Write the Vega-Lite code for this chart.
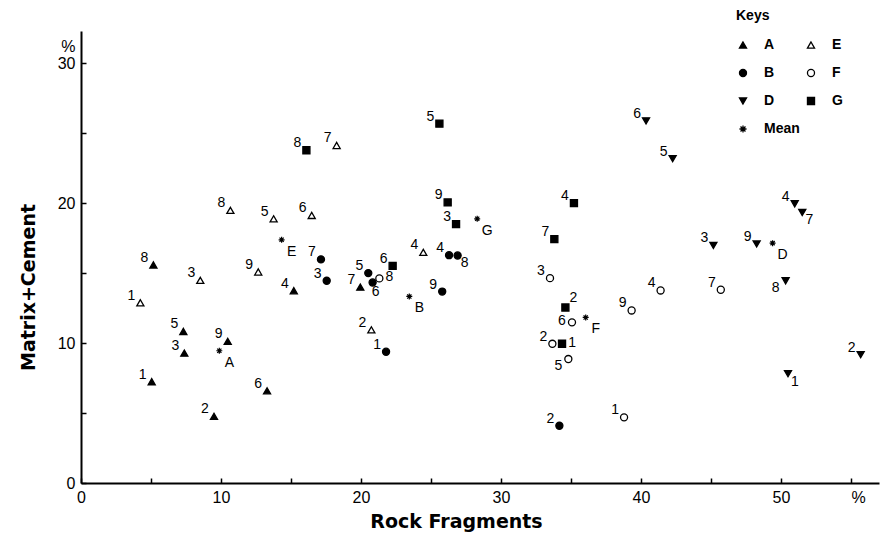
{
  "$schema": "https://vega.github.io/schema/vega-lite/v6.json",
  "width": 798,
  "height": 452,
  "autosize": {"type": "none"},
  "padding": {"left": 81, "top": 31, "right": 2, "bottom": 55},
  "background": "white",
  "config": {
    "view": {"stroke": null},
    "axis": {"grid": false, "domainColor": "black", "domainWidth": 2, "tickColor": "black", "tickWidth": 1.5, "labelColor": "black", "titleColor": "black"},
    "text": {"font": "Liberation Sans", "fontSize": 14, "fill": "black"},
    "legend": {"symbolStrokeColor": "black", "symbolStrokeWidth": 1.3}
  },
  "datasets": {
    "pts": [
      {"g": "A", "n": "1", "x": 5.05, "y": 7.24},
      {"g": "A", "n": "2", "x": 9.5, "y": 4.76},
      {"g": "A", "n": "3", "x": 7.38, "y": 9.28},
      {"g": "A", "n": "4", "x": 15.2, "y": 13.74},
      {"g": "A", "n": "5", "x": 7.31, "y": 10.83},
      {"g": "A", "n": "6", "x": 13.29, "y": 6.59},
      {"g": "A", "n": "7", "x": 19.95, "y": 14.0},
      {"g": "A", "n": "8", "x": 5.17, "y": 15.58},
      {"g": "A", "n": "9", "x": 10.48, "y": 10.12},
      {"g": "B", "n": "1", "x": 21.79, "y": 9.38},
      {"g": "B", "n": "2", "x": 34.17, "y": 4.09},
      {"g": "B", "n": "3", "x": 17.55, "y": 14.45},
      {"g": "B", "n": "4", "x": 26.29, "y": 16.28},
      {"g": "B", "n": "5", "x": 20.52, "y": 15.0},
      {"g": "B", "n": "6", "x": 20.83, "y": 14.33},
      {"g": "B", "n": "7", "x": 17.14, "y": 15.98},
      {"g": "B", "n": "8", "x": 26.9, "y": 16.26},
      {"g": "B", "n": "9", "x": 25.8, "y": 13.68},
      {"g": "D", "n": "1", "x": 50.5, "y": 7.81},
      {"g": "D", "n": "2", "x": 55.69, "y": 9.17},
      {"g": "D", "n": "3", "x": 45.17, "y": 16.98},
      {"g": "D", "n": "4", "x": 50.98, "y": 19.95},
      {"g": "D", "n": "5", "x": 42.26, "y": 23.18},
      {"g": "D", "n": "6", "x": 40.36, "y": 25.88},
      {"g": "D", "n": "7", "x": 51.52, "y": 19.33},
      {"g": "D", "n": "8", "x": 50.33, "y": 14.45},
      {"g": "D", "n": "9", "x": 48.26, "y": 17.08},
      {"g": "E", "n": "1", "x": 4.24, "y": 12.88},
      {"g": "E", "n": "2", "x": 20.74, "y": 10.95},
      {"g": "E", "n": "3", "x": 8.52, "y": 14.48},
      {"g": "E", "n": "4", "x": 24.45, "y": 16.48},
      {"g": "E", "n": "5", "x": 13.76, "y": 18.88},
      {"g": "E", "n": "6", "x": 16.48, "y": 19.12},
      {"g": "E", "n": "7", "x": 18.26, "y": 24.12},
      {"g": "E", "n": "8", "x": 10.67, "y": 19.48},
      {"g": "E", "n": "9", "x": 12.66, "y": 15.08},
      {"g": "F", "n": "1", "x": 38.79, "y": 4.69},
      {"g": "F", "n": "2", "x": 33.67, "y": 9.95},
      {"g": "F", "n": "3", "x": 33.5, "y": 14.64},
      {"g": "F", "n": "4", "x": 41.4, "y": 13.76},
      {"g": "F", "n": "5", "x": 34.81, "y": 8.86},
      {"g": "F", "n": "6", "x": 35.07, "y": 11.48},
      {"g": "F", "n": "7", "x": 45.7, "y": 13.81},
      {"g": "F", "n": "8", "x": 21.31, "y": 14.62},
      {"g": "F", "n": "9", "x": 39.33, "y": 12.33},
      {"g": "G", "n": "1", "x": 34.36, "y": 9.95},
      {"g": "G", "n": "2", "x": 34.6, "y": 12.54},
      {"g": "G", "n": "3", "x": 26.79, "y": 18.5},
      {"g": "G", "n": "4", "x": 35.21, "y": 20.0},
      {"g": "G", "n": "5", "x": 25.6, "y": 25.68},
      {"g": "G", "n": "6", "x": 22.26, "y": 15.52},
      {"g": "G", "n": "7", "x": 33.81, "y": 17.43},
      {"g": "G", "n": "8", "x": 16.1, "y": 23.78},
      {"g": "G", "n": "9", "x": 26.19, "y": 20.05}
    ],
    "means": [
      {"g": "Mean", "m": "A", "x": 9.88, "y": 9.45},
      {"g": "Mean", "m": "B", "x": 23.45, "y": 13.33},
      {"g": "Mean", "m": "D", "x": 49.4, "y": 17.14},
      {"g": "Mean", "m": "E", "x": 14.33, "y": 17.38},
      {"g": "Mean", "m": "F", "x": 36.05, "y": 11.83},
      {"g": "Mean", "m": "G", "x": 28.3, "y": 18.88}
    ]
  },
  "encoding": {
    "x": {
      "field": "x", "type": "quantitative",
      "scale": {"domain": [0, 57], "nice": false, "zero": false},
      "axis": {
        "values": [0, 5, 10, 15, 20, 25, 30, 35, 40, 45, 50, 55, 55.5],
        "labelExpr": "datum.value == 55.5 ? '%' : (datum.value % 10 == 0 ? datum.label : '')",
        "tickSize": -5,
        "tickOpacity": {"condition": {"test": "datum.value == 55.5", "value": 0}, "value": 1},
        "labelPadding": 11,
        "labelFont": "Liberation Sans", "labelFontSize": 16, "labelBaseline": "top",
        "labelFlush": false, "labelOverlap": false,
        "title": "Rock Fragments",
        "titleFont": "DejaVu Sans", "titleFontSize": 19, "titleFontWeight": "bold",
        "titleX": 375, "titleY": 44, "titleBaseline": "alphabetic", "titleAlign": "center", "titleAnchor": null
      }
    },
    "y": {
      "field": "y", "type": "quantitative",
      "scale": {"domain": [0, 32.3], "nice": false, "zero": false},
      "axis": {
        "values": [0, 5, 10, 15, 20, 25, 30, 31.2],
        "labelExpr": "datum.value == 31.2 ? '%' : (datum.value % 10 == 0 ? datum.label : '')",
        "tickSize": -5,
        "tickOpacity": {"condition": {"test": "datum.value == 31.2", "value": 0}, "value": 1},
        "labelPadding": 11,
        "labelFont": "Liberation Sans", "labelFontSize": 16,
        "labelFlush": false, "labelOverlap": false,
        "title": "Matrix+Cement",
        "titleFont": "DejaVu Sans", "titleFontSize": 19, "titleFontWeight": "bold",
        "titleX": -47, "titleY": 256, "titleBaseline": "alphabetic", "titleAlign": "center", "titleAngle": -90
      }
    }
  },
  "layer": [
    {
      "data": {"name": "pts"},
      "mark": {"type": "point", "filled": true, "strokeWidth": 1.3, "opacity": 1, "size": 50},
      "encoding": {
        "shape": {
          "field": "g", "type": "nominal",
          "scale": {"domain": ["A", "B", "D", "Mean", "E", "F", "G"], "range": ["triangle-up", "circle", "triangle-down", "M-1,0L1,0M0,-1L0,1M-0.7,-0.7L0.7,0.7M-0.7,0.7L0.7,-0.7", "triangle-up", "circle", "square"]},
          "legend": {"title": "Keys", "orient": "none", "legendX": 655, "legendY": -22, "columns": 2, "titleFont": "Liberation Sans", "titleFontSize": 14, "titleFontWeight": "bold", "titleColor": "black", "titlePadding": 15, "titleAnchor": "start", "labelFont": "Liberation Sans", "labelFontSize": 14, "labelFontWeight": "bold", "labelColor": "black", "labelOffset": 14, "rowPadding": 14, "columnPadding": 4, "symbolSize": 50}
        },
        "fill": {
          "field": "g", "type": "nominal",
          "scale": {"domain": ["A", "B", "D", "Mean", "E", "F", "G"], "range": ["black", "black", "black", "black", "white", "white", "black"]},
          "legend": {"title": "Keys", "orient": "none", "legendX": 655, "legendY": -22, "columns": 2, "titleFont": "Liberation Sans", "titleFontSize": 14, "titleFontWeight": "bold", "titleColor": "black", "titlePadding": 15, "titleAnchor": "start", "labelFont": "Liberation Sans", "labelFontSize": 14, "labelFontWeight": "bold", "labelColor": "black", "labelOffset": 14, "rowPadding": 14, "columnPadding": 4, "symbolSize": 50}
        },
        "stroke": {
          "field": "g", "type": "nominal",
          "scale": {"domain": ["A", "B", "D", "Mean", "E", "F", "G"], "range": ["black", "black", "black", "black", "black", "black", "black"]},
          "legend": {"title": "Keys", "orient": "none", "legendX": 655, "legendY": -22, "columns": 2, "titleFont": "Liberation Sans", "titleFontSize": 14, "titleFontWeight": "bold", "titleColor": "black", "titlePadding": 15, "titleAnchor": "start", "labelFont": "Liberation Sans", "labelFontSize": 14, "labelFontWeight": "bold", "labelColor": "black", "labelOffset": 14, "rowPadding": 14, "columnPadding": 4, "symbolSize": 50}
        }
      }
    },
    {
      "data": {"name": "means"},
      "mark": {"type": "point", "filled": true, "strokeWidth": 1.2, "opacity": 1, "size": 36},
      "encoding": {
        "shape": {"field": "g", "type": "nominal"},
        "fill": {"field": "g", "type": "nominal"},
        "stroke": {"field": "g", "type": "nominal"}
      }
    },
    {
      "data": {"name": "pts"},
      "transform": [{"filter": "indexof(['B8','D7','D1','F8','G1','G2','B6','F6','F5','D8'], datum.g + datum.n) < 0"}],
      "mark": {"type": "text", "dx": -9, "dy": -7, "align": "center", "baseline": "middle"},
      "encoding": {"text": {"field": "n"}}
    },
    {
      "data": {"name": "pts"},
      "transform": [{"filter": "indexof(['B8','D7','D1'], datum.g + datum.n) >= 0"}],
      "mark": {"type": "text", "dx": 7, "dy": 8, "align": "center", "baseline": "middle"},
      "encoding": {"text": {"field": "n"}}
    },
    {
      "data": {"name": "pts"},
      "transform": [{"filter": "indexof(['F8','G1'], datum.g + datum.n) >= 0"}],
      "mark": {"type": "text", "dx": 10, "dy": -1, "align": "center", "baseline": "middle"},
      "encoding": {"text": {"field": "n"}}
    },
    {
      "data": {"name": "pts"},
      "transform": [{"filter": "datum.g + datum.n == 'G2'"}],
      "mark": {"type": "text", "dx": 8, "dy": -10, "align": "center", "baseline": "middle"},
      "encoding": {"text": {"field": "n"}}
    },
    {
      "data": {"name": "pts"},
      "transform": [{"filter": "datum.g + datum.n == 'B6'"}],
      "mark": {"type": "text", "dx": 3, "dy": 10, "align": "center", "baseline": "middle"},
      "encoding": {"text": {"field": "n"}}
    },
    {
      "data": {"name": "pts"},
      "transform": [{"filter": "datum.g + datum.n == 'F6'"}],
      "mark": {"type": "text", "dx": -10, "dy": -1, "align": "center", "baseline": "middle"},
      "encoding": {"text": {"field": "n"}}
    },
    {
      "data": {"name": "pts"},
      "transform": [{"filter": "indexof(['F5','D8'], datum.g + datum.n) >= 0"}],
      "mark": {"type": "text", "dx": -10, "dy": 7, "align": "center", "baseline": "middle"},
      "encoding": {"text": {"field": "n"}}
    },
    {
      "data": {"name": "means"},
      "mark": {"type": "text", "dx": 10, "dy": 12, "fontSize": 14, "align": "center", "baseline": "middle"},
      "encoding": {"text": {"field": "m"}}
    }
  ]
}
